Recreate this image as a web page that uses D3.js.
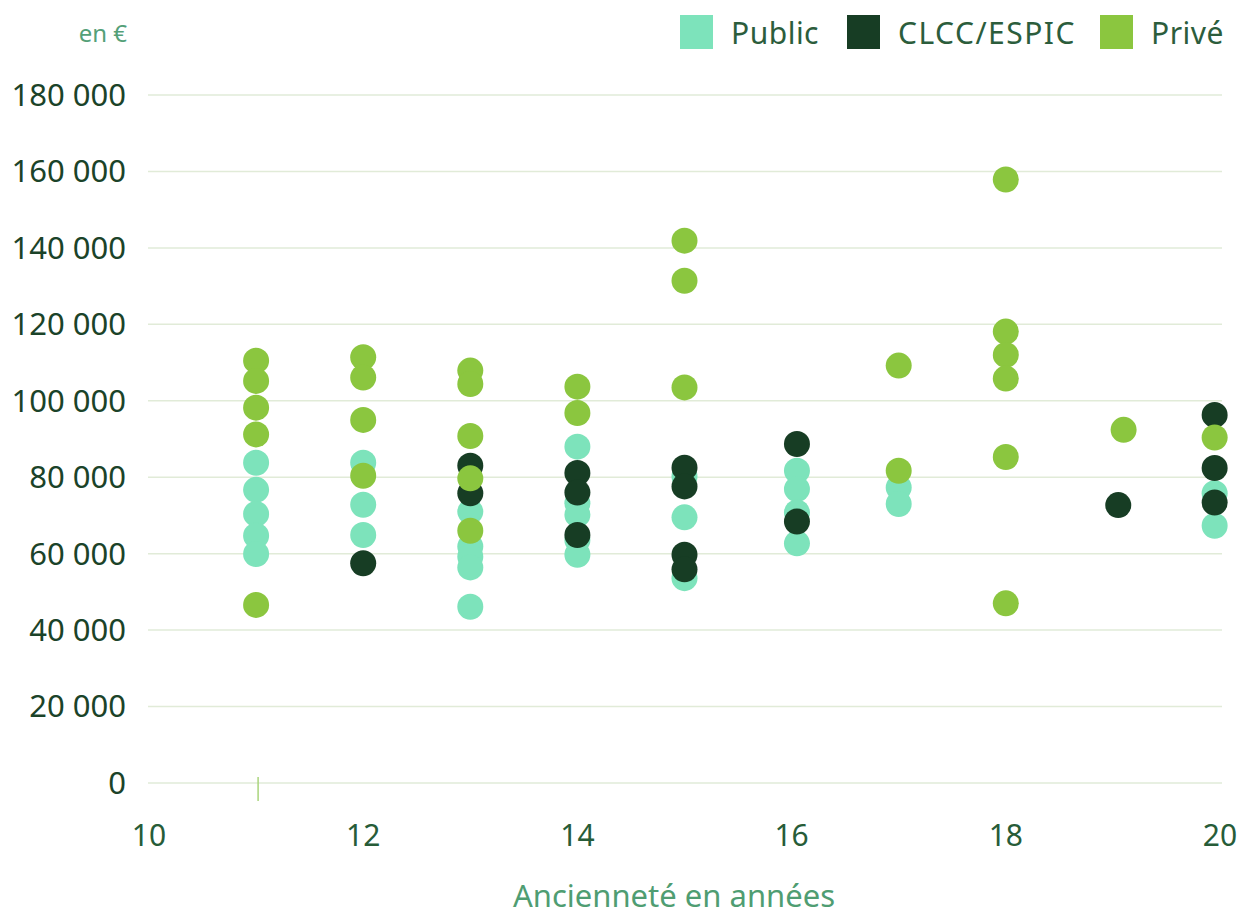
<!DOCTYPE html>
<html>
<head>
<meta charset="utf-8">
<script src="https://cdn.jsdelivr.net/npm/d3@7"></script>
<style>
  body { margin: 0; background: #fff; }
  svg { display: block; font-family: "Noto Sans", "Open Sans", sans-serif; }
</style>
</head>
<body>
<div id="chart"></div>
<script>
// Data (x = ancienneté, y = salaire en €)
var seriesNames = ["Public", "CLCC/ESPIC", "Privé"];
var seriesColors = ["#7de3bb", "#173d24", "#8bc63f"];

var publicPoints = [
  [11, 83800], [11, 76700], [11, 70400], [11, 64700], [11, 59900],
  [12, 83800], [12, 72800], [12, 64900],
  [13, 71000], [13, 61900], [13, 59200], [13, 56400], [13, 46100],
  [14, 88000], [14, 73200], [14, 70200], [14, 63600], [14, 59700],
  [15, 80200], [15, 69500], [15, 53600],
  [16.05, 81700], [16.05, 76900], [16.05, 70800], [16.05, 62700],
  [17, 77300], [17, 73000],
  [19.95, 75800], [19.95, 67300]
];
var clccPoints = [
  [12, 57500],
  [13, 83000], [13, 75800],
  [14, 81100], [14, 76000], [14, 64900],
  [15, 82500], [15, 77600], [15, 59700], [15, 55900],
  [16.05, 88700], [16.05, 68400],
  [19.05, 72700],
  [19.95, 96300], [19.95, 82400], [19.95, 73400]
];
var privePoints = [
  [11, 110500], [11, 105200], [11, 98200], [11, 91200], [11, 46600],
  [12, 111400], [12, 106100], [12, 95000], [12, 80400],
  [13, 107900], [13, 104400], [13, 90800], [13, 79700], [13, 66000],
  [14, 103700], [14, 96800],
  [15, 141900], [15, 131400], [15, 103500],
  [17, 109200], [17, 81700],
  [18, 157900], [18, 118100], [18, 112000], [18, 105800], [18, 85300], [18, 47000],
  [19.1, 92400],
  [19.95, 90400]
];

var xTicks = [10, 12, 14, 16, 18, 20];
var yTicks = [0, 20000, 40000, 60000, 80000, 100000, 120000, 140000, 160000, 180000];

var width = 1240, height = 915;

var svg = d3.select("#chart").append("svg")
  .attr("width", width)
  .attr("height", height);

var x = d3.scaleLinear().domain([10, 20]).range([149, 1220]);
var y = d3.scaleLinear().domain([0, 180000]).range([783, 95]);

var fmt = function(v) { return d3.format(",")(v).replace(/,/g, " "); };

// Grid lines
svg.append("g").selectAll("line")
  .data(yTicks)
  .enter().append("line")
  .attr("x1", 148).attr("x2", 1222)
  .attr("y1", function(d) { return y(d); })
  .attr("y2", function(d) { return y(d); })
  .attr("stroke", "#e1ebd8")
  .attr("stroke-width", 1.5);

// Y axis labels
svg.append("g").selectAll("text")
  .data(yTicks)
  .enter().append("text")
  .attr("x", 126)
  .attr("y", function(d) { return y(d); })
  .attr("dy", "0.35em")
  .attr("text-anchor", "end")
  .attr("fill", "#1b4329")
  .style("font-size", "31px")
  .text(fmt);

// X axis labels
svg.append("g").selectAll("text")
  .data(xTicks)
  .enter().append("text")
  .attr("x", function(d) { return x(d); })
  .attr("y", 835)
  .attr("dy", "0.35em")
  .attr("text-anchor", "middle")
  .attr("fill", "#275c38")
  .style("font-size", "30px")
  .text(function(d) { return d; });

// small tick mark under the baseline
svg.append("line")
  .attr("x1", x(11) + 2).attr("x2", x(11) + 2)
  .attr("y1", y(0) - 6).attr("y2", y(0) + 18)
  .attr("stroke", "#a9d57c")
  .attr("stroke-width", 1.5);

// Unit label
svg.append("text")
  .attr("x", 127).attr("y", 34)
  .attr("dy", "0.35em")
  .attr("text-anchor", "end")
  .attr("fill", "#54a078")
  .style("font-size", "24px")
  .text("en €");

// X axis title
svg.append("text")
  .attr("x", 674).attr("y", 896)
  .attr("dy", "0.35em")
  .attr("text-anchor", "middle")
  .attr("fill", "#4f9d72")
  .style("font-size", "31px")
  .text("Ancienneté en années");

// Points: Public, then CLCC, then Privé on top
var allSeries = [publicPoints, clccPoints, privePoints];
allSeries.forEach(function(pts, i) {
  svg.append("g").selectAll("circle")
    .data(pts)
    .enter().append("circle")
    .attr("cx", function(d) { return x(d[0]); })
    .attr("cy", function(d) { return y(d[1]); })
    .attr("r", 13)
    .attr("fill", seriesColors[i]);
});

// Legend
var legendX = [680, 847, 1100];
var legend = svg.append("g");
seriesNames.forEach(function(name, i) {
  legend.append("rect")
    .attr("x", legendX[i]).attr("y", 15)
    .attr("width", 33).attr("height", 34)
    .attr("fill", seriesColors[i]);
  legend.append("text")
    .attr("x", legendX[i] + 51).attr("y", 33)
    .attr("dy", "0.35em")
    .attr("fill", "#2c5d3c")
    .style("font-size", "30px")
    .style("letter-spacing", i === 1 ? "1.5px" : "0.5px")
    .text(name);
});
</script>
</body>
</html>
